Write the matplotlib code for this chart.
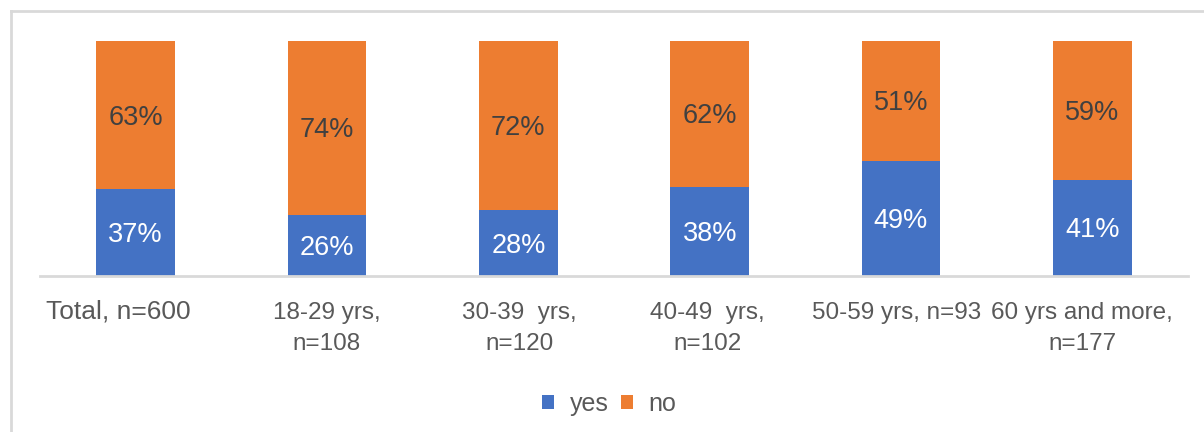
import matplotlib.pyplot as plt
import matplotlib.transforms as mtransforms
import numpy as np

categories = ["Total, n=600", "18-29 yrs,\nn=108", "30-39  yrs,\nn=120",
              "40-49  yrs,\nn=102", "50-59 yrs, n=93", "60 yrs and more,\nn=177"]
yes_vals = [37, 26, 28, 38, 49, 41]
no_vals = [63, 74, 72, 62, 51, 59]

BLUE = "#4472C4"
ORANGE = "#ED7D31"
GRID = "#D9D9D9"
TXT = "#595959"

plt.rcParams["font.family"] = ["Liberation Sans", "DejaVu Sans"]

fig = plt.figure(figsize=(12.04, 4.32), dpi=100, facecolor="white")
ax = fig.add_axes([40 / 1204, 156 / 432, 1148 / 1204, 235 / 432])

x = np.arange(len(categories))
yes = np.array(yes_vals) / 100
no = np.array(no_vals) / 100
b1 = ax.bar(x, yes, width=0.41, color=BLUE, label="yes")
b2 = ax.bar(x, no, width=0.41, bottom=yes, color=ORANGE, label="no")

down = ax.transData + mtransforms.ScaledTranslation(0, -2.5 / 100, fig.dpi_scale_trans)
for i in range(len(x)):
    ax.text(x[i], yes[i] / 2, f"{yes_vals[i]}%", ha="center", va="center",
            color="white", fontsize=19.5, transform=down)
    ax.text(x[i], yes[i] + no[i] / 2, f"{no_vals[i]}%", ha="center", va="center",
            color="#404040", fontsize=19.5, transform=down)

ax.set_xlim(-0.5, len(x) - 0.5)
ax.set_ylim(0, 1)
ax.set_yticks([])
ax.set_xticks(x)
ax.set_xticklabels(categories, fontsize=17.5, color=TXT, linespacing=1.5)
ax.get_xticklabels()[0].set_fontsize(19)
ax.tick_params(axis="x", length=0, pad=19)
# small nudges (px) so labels sit like the excel wrapping
nudges = [(-17, 3), (0, 0), (1, 0), (-2, 0), (-4, 0), (-10, 0)]
for lbl, (dx, dy) in zip(ax.get_xticklabels(), nudges):
    lbl.set_transform(lbl.get_transform() + mtransforms.ScaledTranslation(dx / 100, dy / 100, fig.dpi_scale_trans))
for s in ["top", "left", "right"]:
    ax.spines[s].set_visible(False)
ax.spines["bottom"].set_color(GRID)
ax.spines["bottom"].set_linewidth(2)

leg = fig.legend(handles=[b1, b2], labels=["yes", "no"], loc="center",
                 bbox_to_anchor=(609 / 1204, 1 - 404 / 432), ncol=2, frameon=False,
                 fontsize=18, handlelength=0.5, handleheight=0.5,
                 handletextpad=0.6, columnspacing=0.5)
for t in leg.get_texts():
    t.set_color(TXT)

# chart border (right and bottom edges fall outside the crop)
fig.add_artist(plt.Line2D([11 / 1204, 11 / 1204], [0, 1 - 11 / 432], color=GRID, lw=2))
fig.add_artist(plt.Line2D([11 / 1204, 1], [1 - 11 / 432, 1 - 11 / 432], color=GRID, lw=2))

fig.savefig("out.png", dpi=100)
